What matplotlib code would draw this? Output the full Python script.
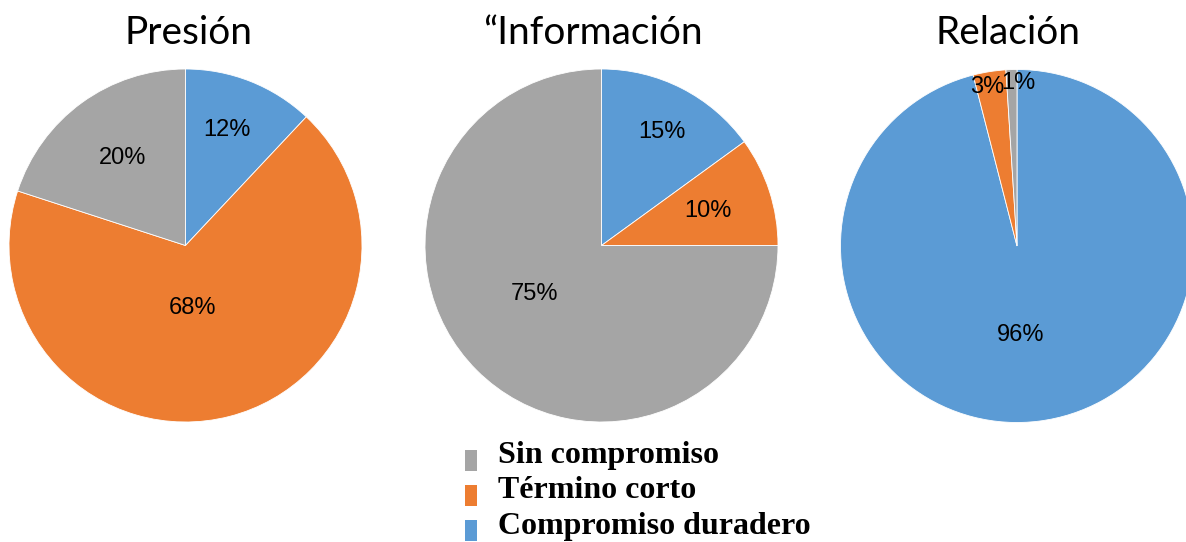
import matplotlib
matplotlib.use("Agg")
import matplotlib.pyplot as plt
from matplotlib.patches import Patch, Rectangle
from matplotlib.legend_handler import HandlerPatch

# ---- data ----
titles = ["Presión", "“Información", "Relación"]
categories = ["Compromiso duradero", "Término corto", "Sin compromiso"]
presion = [12, 68, 20]
informacion = [15, 10, 75]
relacion = [96, 3, 1]
series = [presion, informacion, relacion]
legend_order = ["Sin compromiso", "Término corto", "Compromiso duradero"]

colors = {"Compromiso duradero": "#5B9BD5",
          "Término corto": "#ED7D31",
          "Sin compromiso": "#A5A5A5"}

# ---- layout (pixels) ----
W, H = 1186, 542
centers = [(185.5, 245.5), (601.5, 245.5), (1017.0, 246.0)]
radius_px = 176.5
title_x = [188, 593, 1008]
title_base_y = 44
# label offsets (in units of pie radius), per pie, in wedge order
label_offsets = [
    [(0.234, 0.653), (0.037, -0.353), (-0.359, 0.494)],
    [(0.343, 0.643), (0.603, 0.195), (-0.382, -0.275)],
    [(0.023, -0.506), (-0.170, 0.903), (0.006, 0.926)],
]

fig = plt.figure(figsize=(W / 100, H / 100), dpi=100)
fig.patch.set_facecolor("white")

for i, vals in enumerate(series):
    cx, cy = centers[i]
    left = (cx - radius_px) / W
    bottom = (H - cy - radius_px) / H
    ax = fig.add_axes([left, bottom, 2 * radius_px / W, 2 * radius_px / H])
    ax.pie(vals, colors=[colors[c] for c in categories], startangle=90,
           counterclock=False, radius=1,
           wedgeprops=dict(edgecolor="white", linewidth=0.6))
    ax.set_xlim(-1, 1)
    ax.set_ylim(-1, 1)
    ax.set_aspect("equal")
    ax.axis("off")
    for v, (dx, dy) in zip(vals, label_offsets[i]):
        ax.text(dx, dy, f"{v}%", ha="center", va="center",
                fontsize=17, family="Liberation Sans", color="black")
    fig.text(title_x[i] / W, 1 - title_base_y / H, titles[i],
             ha="center", va="baseline", fontsize=28, family="Lato",
             color="black")


def shifted_rect(legend, orig_handle, xdescent, ydescent, width, height, fontsize):
    return Rectangle((-xdescent, -ydescent - 6.0), width, height)


handles = [Patch(facecolor=colors[c], edgecolor="none") for c in legend_order]
fig.legend(handles, legend_order, loc="upper left",
           bbox_to_anchor=(465 / W, 1 - 441 / H), frameon=False,
           prop=dict(family="Liberation Serif", weight="bold", size=23),
           handlelength=0.38, handleheight=0.64, handletextpad=0.66,
           labelspacing=0.2, borderpad=0, borderaxespad=0,
           handler_map={Patch: HandlerPatch(patch_func=shifted_rect)})

fig.savefig("out.png", dpi=100, facecolor="white")
